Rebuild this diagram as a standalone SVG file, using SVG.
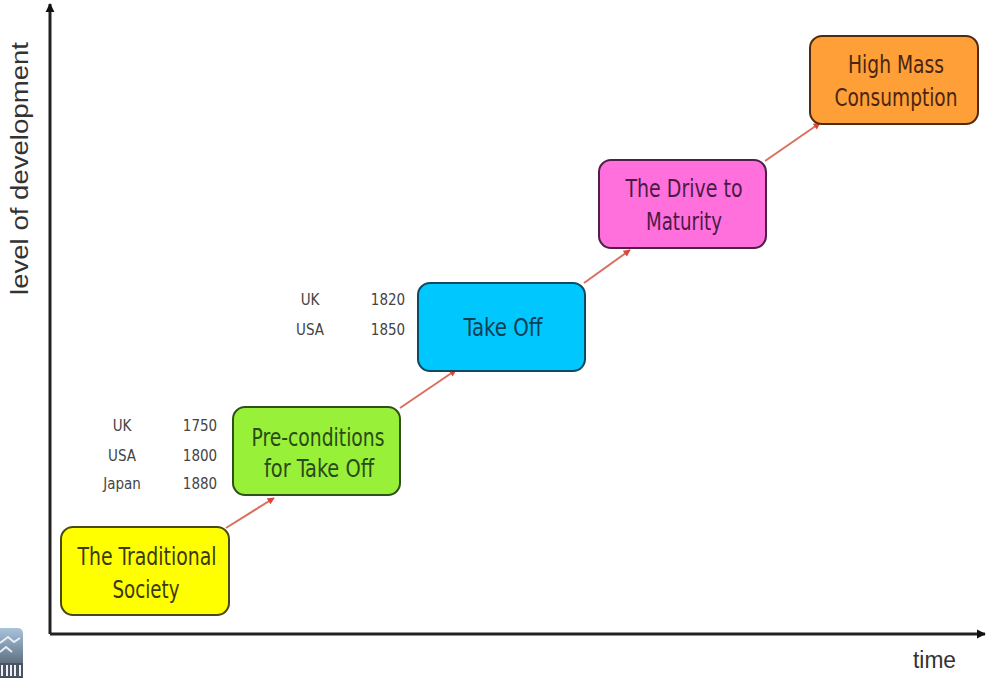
<svg xmlns="http://www.w3.org/2000/svg" width="990" height="678" viewBox="0 0 990 678">
<style>
.box{stroke-width:2;}
.lbl{font-family:"DejaVu Sans Condensed","DejaVu Sans",sans-serif;font-stretch:condensed;font-size:25px;text-anchor:middle;}
.sm{font-family:"DejaVu Sans Condensed","DejaVu Sans",sans-serif;font-stretch:condensed;font-size:15px;fill:#444;text-anchor:middle;}
.axl{font-family:"Liberation Sans",Arial,sans-serif;font-size:23px;fill:#333;}
.arrow{stroke:#d9705f;stroke-width:2;fill:none;marker-end:url(#red);}
.axis{stroke:#222;stroke-width:3;fill:none;}
</style>
<defs>
<marker id="red" viewBox="0 0 10 10" refX="9" refY="5" markerWidth="8" markerHeight="7" markerUnits="userSpaceOnUse" orient="auto"><path d="M0 0L10 5L0 10Z" fill="#d9473a"/></marker>
<marker id="blk" viewBox="0 0 10 10" refX="9" refY="5" markerWidth="9" markerHeight="10" markerUnits="userSpaceOnUse" orient="auto"><path d="M0 0L10 5L0 10Z" fill="#111"/></marker>
<linearGradient id="logo" x1="0" y1="0" x2="0" y2="1"><stop offset="0" stop-color="#a9c3dc"/><stop offset="0.55" stop-color="#6f8396"/><stop offset="1" stop-color="#3f4a55"/></linearGradient>
</defs>
<rect width="990" height="678" fill="#fff"/>
<g id="connectors">
<path class="arrow" d="M226 528L274 498"/>
<path class="arrow" d="M400 408L456 370"/>
<path class="arrow" d="M584 283L630 250"/>
<path class="arrow" d="M765 161L820 123"/>
</g>
<g id="axes">
<path d="M50 634V4" class="axis" marker-end="url(#blk)"/>
<path d="M50 634H985" class="axis" marker-end="url(#blk)"/>
<text class="axl" transform="translate(28 295) rotate(-90)" textLength="253" lengthAdjust="spacingAndGlyphs">level of development</text>
<text class="axl" x="913" y="668" textLength="43" lengthAdjust="spacingAndGlyphs">time</text>
</g>
<g id="logo-mark">
<path d="M0 628H18Q23 628 23 634V678H0Z" fill="url(#logo)"/>
<path d="M0 643L8 637L14 642L20 638M0 652L6 647L12 652" stroke="#e8eef5" stroke-width="2" fill="none"/>
<rect x="0" y="663" width="23" height="14" fill="#4a5560"/>
<path d="M2 665V676M7 665V676M11 665V676M15 665V676M20 665V676" stroke="#eef" stroke-width="2"/>
</g>
<g id="n1"><rect class="box" x="61" y="527" width="168" height="88" rx="12" fill="#ffff00" stroke="#4a4a10"/>
<text class="lbl" x="147" y="565" fill="#3a3a10" textLength="139" lengthAdjust="spacingAndGlyphs">The Traditional</text><text class="lbl" x="146" y="598" fill="#3a3a10" textLength="67" lengthAdjust="spacingAndGlyphs">Society</text></g>
<g id="n2"><rect class="box" x="233" y="407" width="167" height="88" rx="12" fill="#99f039" stroke="#2f5018"/>
<text class="lbl" x="318" y="446" fill="#2a4a18" textLength="133" lengthAdjust="spacingAndGlyphs">Pre-conditions</text><text class="lbl" x="319" y="477" fill="#2a4a18" textLength="110" lengthAdjust="spacingAndGlyphs">for Take Off</text></g>
<g id="n3"><rect class="box" x="418" y="283" width="167" height="88" rx="12" fill="#00c8ff" stroke="#0d4a60"/>
<text class="lbl" x="503" y="336" fill="#0d3f55" textLength="79" lengthAdjust="spacingAndGlyphs">Take Off</text></g>
<g id="n4"><rect class="box" x="599" y="160" width="167" height="88" rx="12" fill="#ff70dc" stroke="#4f1f48"/>
<text class="lbl" x="684" y="197" fill="#4a1a45" textLength="117" lengthAdjust="spacingAndGlyphs">The Drive to</text><text class="lbl" x="684" y="230" fill="#4a1a45" textLength="76" lengthAdjust="spacingAndGlyphs">Maturity</text></g>
<g id="n5"><rect class="box" x="810" y="36" width="168" height="88" rx="12" fill="#ff9f38" stroke="#4f2a10"/>
<text class="lbl" x="896" y="73" fill="#4a2510" textLength="96" lengthAdjust="spacingAndGlyphs">High Mass</text><text class="lbl" x="896" y="106" fill="#4a2510" textLength="123" lengthAdjust="spacingAndGlyphs">Consumption</text></g>
<g id="dates1">
<text class="sm" x="122" y="431">UK</text><text class="sm" x="200" y="431">1750</text>
<text class="sm" x="122" y="461">USA</text><text class="sm" x="200" y="461">1800</text>
<text class="sm" x="122" y="489">Japan</text><text class="sm" x="200" y="489">1880</text>
</g>
<g id="dates2">
<text class="sm" x="310" y="305">UK</text><text class="sm" x="388" y="305">1820</text>
<text class="sm" x="310" y="335">USA</text><text class="sm" x="388" y="335">1850</text>
</g>
</svg>
